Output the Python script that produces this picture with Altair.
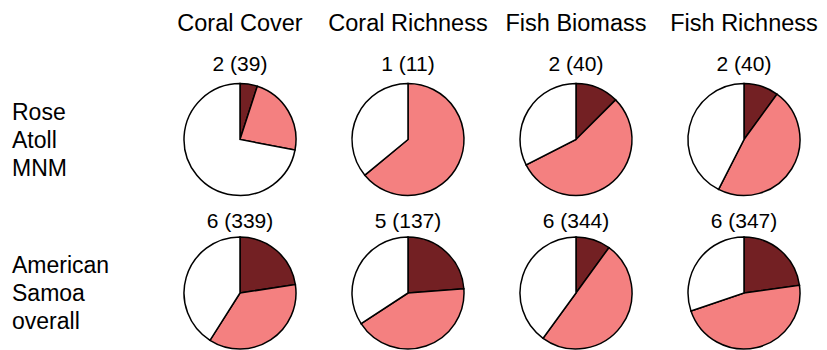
import altair as alt
import pandas as pd

regions = ["Rose Atoll MNM", "American Samoa overall"]
region_labels = ["Rose\nAtoll\nMNM", "American\nSamoa\noverall"]
metrics = ["Coral Cover", "Coral Richness", "Fish Biomass", "Fish Richness"]
categories = ["Low", "Mid", "High"]
colors = ["#732023", "#F48080", "#FFFFFF"]

# percent of each pie (clockwise from 12 o'clock), per region, per metric
low_pct = {
    "Rose Atoll MNM": [5, 0, 12.5, 10],
    "American Samoa overall": [22.6, 23.8, 10, 22.8],
}
mid_pct = {
    "Rose Atoll MNM": [23, 64, 55, 47.5],
    "American Samoa overall": [36.4, 42, 50, 47],
}
high_pct = {
    "Rose Atoll MNM": [72, 36, 32.5, 42.5],
    "American Samoa overall": [41, 34.2, 40, 30.2],
}
count_labels = {
    "Rose Atoll MNM": ["2 (39)", "1 (11)", "2 (40)", "2 (40)"],
    "American Samoa overall": ["6 (339)", "5 (137)", "6 (344)", "6 (347)"],
}

rows = []
for r in regions:
    for i, m in enumerate(metrics):
        for k, (c, src) in enumerate(zip(categories, [low_pct, mid_pct, high_pct])):
            rows.append({"region": r, "metric": m, "category": c, "order": k, "value": src[r][i]})
pie_df = pd.DataFrame(rows)

lab_df = pd.DataFrame(
    [{"region": r, "metric": m, "label": count_labels[r][i]} for r in regions for i, m in enumerate(metrics)]
)
head_df = pd.DataFrame({"metric": metrics})
row_df = pd.DataFrame({"region": regions, "label": region_labels})

FONT = "Liberation Sans"

xs = alt.Scale(type="point", domain=metrics, range=[232, 736], padding=0)
ys = alt.Scale(type="point", domain=regions, range=[131.5, 285], padding=0)

pies = (
    alt.Chart(pie_df)
    .transform_stack(
        stack="value",
        groupby=["region", "metric"],
        as_=["v0", "v1"],
        sort=[alt.SortField("order", order="ascending")],
    )
    .mark_arc(radius=56, stroke="black", strokeWidth=1.5)
    .encode(
        x=alt.X("metric:N", scale=xs, axis=None),
        y=alt.Y("region:N", scale=ys, axis=None),
        theta=alt.Theta("v0:Q", stack=None, scale=alt.Scale(domain=[0, 100])),
        theta2="v1:Q",
        color=alt.Color("category:N", scale=alt.Scale(domain=categories, range=colors), legend=None),
    )
)


def count_layer(region, dy):
    return (
        alt.Chart(lab_df)
        .transform_filter(alt.datum.region == region)
        .mark_text(dy=dy, fontSize=21, font=FONT, color="black", baseline="middle")
        .encode(
            x=alt.X("metric:N", scale=xs, axis=None),
            y=alt.Y("region:N", scale=ys, axis=None),
            text="label:N",
        )
    )


counts_top = count_layer(regions[0], -75)
counts_bottom = count_layer(regions[1], -71)

headers = (
    alt.Chart(head_df)
    .mark_text(fontSize=23.5, font=FONT, color="black", baseline="alphabetic")
    .encode(
        x=alt.X("metric:N", scale=xs, axis=None),
        y=alt.value(23),
        text="metric:N",
    )
)

row_labels = (
    alt.Chart(row_df)
    .mark_text(align="left", baseline="middle", lineBreak="\n", lineHeight=28,
               fontSize=23, font=FONT, color="black", dy=-27)
    .encode(
        x=alt.value(4),
        y=alt.Y("region:N", scale=ys, axis=None),
        text="label:N",
    )
)

chart = (
    alt.layer(pies, counts_top, counts_bottom, headers, row_labels)
    .properties(width=811, height=342, autosize=alt.AutoSizeParams(type="none"), padding=0)
    .configure_view(stroke=None)
)

chart.save("out.html", embed_options={"renderer": "svg", "actions": False})
